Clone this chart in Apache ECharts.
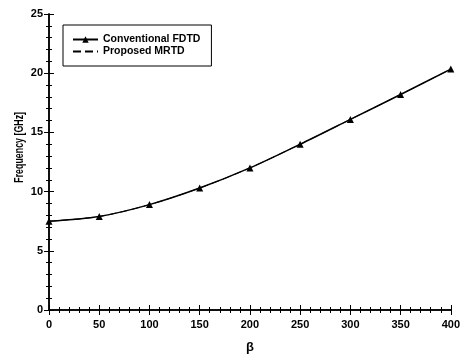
<!DOCTYPE html>
<html><head><meta charset="utf-8">
<script src="https://cdn.jsdelivr.net/npm/echarts@6/dist/echarts.min.js"></script>
<style>html,body{margin:0;padding:0;background:#fff}#c{width:463px;height:359px}</style>
</head><body><div id="c"></div>
<script>
const beta = [0, 50, 100, 150, 200, 250, 300, 350, 400];
const fdtd = [7.5, 7.9, 8.9, 10.3, 12.0, 14.0, 16.1, 18.2, 20.35];
const mrtd = [7.5, 7.9, 8.9, 10.3, 12.0, 14.0, 16.1, 18.2, 20.35];
const seriesNames = ['Conventional FDTD', 'Proposed MRTD'];
const yTitle = 'Frequency [GHz]';
const xTitle = 'β';

const font = 'Liberation Sans, Arial, sans-serif';
const chart = echarts.init(document.getElementById('c'));
const axisCommon = {
  axisLine: {show: true, lineStyle: {color: '#000', width: 1.5}},
  axisTick: {show: true, inside: true, length: 5, lineStyle: {color: '#000'}},
  minorTick: {show: true, length: 3, splitNumber: 5, lineStyle: {color: '#000'}},
  splitLine: {show: false}
};
chart.setOption({
  animation: false,
  backgroundColor: '#fff',
  grid: {left: 49, right: 9, top: 14, bottom: 49},
  legend: {
    left: 63, top: 25, orient: 'vertical', itemGap: 1,
    borderColor: '#000', borderWidth: 1, padding: [9, 11, 9, 9],
    itemWidth: 25, itemHeight: 8,
    textStyle: {fontFamily: font, fontSize: 10.5, fontWeight: 'bold', color: '#000'},
    data: [
      {name: seriesNames[0]},
      {name: seriesNames[1], itemStyle: {opacity: 0}}
    ]
  },
  graphic: [{
    type: 'text', left: 13, top: 112, rotation: Math.PI / 2, scaleX: 0.68,
    style: {text: yTitle, font: 'bold 13px ' + font, fill: '#000'}
  }],
  xAxis: [
    Object.assign({}, axisCommon, {
      type: 'value', min: 0, max: 400, interval: 50,
      name: xTitle, nameLocation: 'middle', nameGap: 31,
      nameTextStyle: {fontFamily: font, fontSize: 13, fontWeight: 'bold', color: '#000'},
      axisLabel: {fontFamily: font, fontSize: 11, fontWeight: 'bold', color: '#000', margin: 9}
    }),
    Object.assign({}, axisCommon, {
      type: 'value', position: 'top', min: 0, max: 400, interval: 50,
      axisLabel: {show: false}
    })
  ],
  yAxis: [
    Object.assign({}, axisCommon, {
      type: 'value', min: 0, max: 25, interval: 5,
      axisLabel: {fontFamily: font, fontSize: 11, fontWeight: 'bold', color: '#000', margin: 6}
    }),
    Object.assign({}, axisCommon, {
      type: 'value', position: 'right', min: 0, max: 25, interval: 5,
      axisLabel: {show: false}
    })
  ],
  series: [
    {
      name: seriesNames[0], type: 'line', smooth: 0.3,
      data: beta.map((b, i) => [b, fdtd[i]]),
      symbol: 'triangle', symbolSize: 7,
      lineStyle: {color: '#000', width: 1.5}, itemStyle: {color: '#000'}
    },
    {
      name: seriesNames[1], type: 'line', smooth: 0.3,
      data: beta.map((b, i) => [b, mrtd[i]]),
      symbol: 'none',
      lineStyle: {color: '#000', width: 1, type: [8, 4]}, itemStyle: {color: '#000'}
    }
  ]
});
</script></body></html>
